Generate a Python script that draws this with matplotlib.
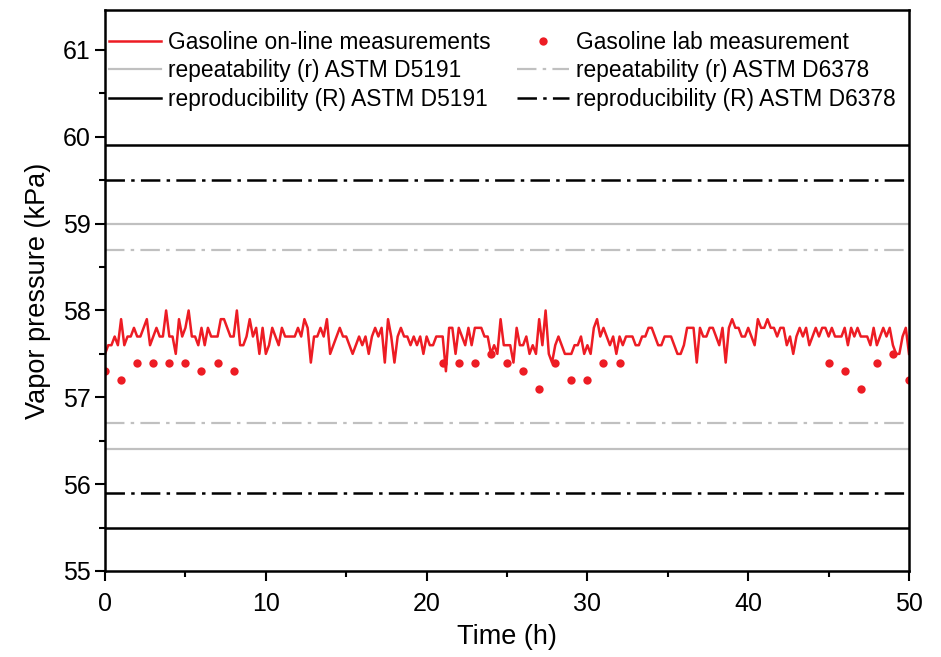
import numpy as np
import matplotlib
matplotlib.use("Agg")
import matplotlib.pyplot as plt
from matplotlib.ticker import MultipleLocator

plt.rcParams['font.family'] = ['Liberation Sans', 'DejaVu Sans']
plt.rcParams['lines.scale_dashes'] = False

# on-line analyser, one reading every 0.2 h
DT = 0.2
online_kpa = [
    57.5, 57.6, 57.6, 57.7, 57.6, 57.9, 57.6, 57.7, 57.7, 57.8,
    57.7, 57.7, 57.8, 57.9, 57.6, 57.7, 57.8, 57.7, 57.7, 58.0,
    57.7, 57.7, 57.5, 57.9, 57.7, 57.8, 58.0, 57.7, 57.7, 57.6,
    57.8, 57.6, 57.8, 57.7, 57.7, 57.7, 57.9, 57.9, 57.8, 57.7,
    57.7, 58.0, 57.6, 57.6, 57.7, 57.9, 57.7, 57.8, 57.5, 57.8,
    57.5, 57.6, 57.8, 57.7, 57.6, 57.8, 57.7, 57.7, 57.7, 57.7,
    57.8, 57.7, 57.9, 57.8, 57.4, 57.7, 57.7, 57.8, 57.7, 57.9,
    57.5, 57.6, 57.7, 57.8, 57.7, 57.7, 57.6, 57.5, 57.6, 57.7,
    57.6, 57.7, 57.5, 57.7, 57.8, 57.7, 57.8, 57.4, 57.9, 57.7,
    57.4, 57.7, 57.8, 57.7, 57.7, 57.6, 57.7, 57.6, 57.7, 57.5,
    57.7, 57.6, 57.6, 57.7, 57.7, 57.7, 57.3, 57.8, 57.8, 57.5,
    57.8, 57.7, 57.6, 57.8, 57.6, 57.8, 57.8, 57.8, 57.7, 57.7,
    57.5, 57.6, 57.5, 57.9, 57.6, 57.6, 57.6, 57.4, 57.8, 57.6,
    57.6, 57.7, 57.5, 57.6, 57.5, 57.9, 57.6, 58.0, 57.5, 57.4,
    57.6, 57.7, 57.6, 57.5, 57.5, 57.5, 57.6, 57.6, 57.7, 57.5,
    57.6, 57.5, 57.8, 57.9, 57.7, 57.8, 57.7, 57.6, 57.7, 57.5,
    57.7, 57.6, 57.7, 57.7, 57.7, 57.6, 57.6, 57.7, 57.7, 57.8,
    57.8, 57.7, 57.6, 57.6, 57.7, 57.7, 57.7, 57.6, 57.5, 57.5,
    57.6, 57.8, 57.8, 57.8, 57.4, 57.8, 57.7, 57.7, 57.8, 57.8,
    57.7, 57.6, 57.8, 57.4, 57.8, 57.9, 57.8, 57.8, 57.7, 57.7,
    57.8, 57.7, 57.6, 57.9, 57.8, 57.8, 57.9, 57.8, 57.8, 57.7,
    57.8, 57.8, 57.6, 57.7, 57.5, 57.7, 57.8, 57.7, 57.8, 57.6,
    57.7, 57.8, 57.7, 57.8, 57.8, 57.7, 57.8, 57.7, 57.7, 57.7,
    57.8, 57.6, 57.8, 57.7, 57.8, 57.7, 57.7, 57.7, 57.6, 57.8,
    57.6, 57.7, 57.8, 57.7, 57.8, 57.6, 57.5, 57.5, 57.7, 57.8,
    57.5,
]
online_t = np.arange(len(online_kpa)) * DT

lab_t = [0, 1, 2, 3, 4, 5, 6, 7, 8,
         21, 22, 23, 24, 25, 26, 27, 28, 29, 30, 31, 32,
         45, 46, 47, 48, 49, 50]
lab_kpa = [57.3, 57.2, 57.4, 57.4, 57.4, 57.4, 57.3, 57.4, 57.3,
           57.4, 57.4, 57.4, 57.5, 57.4, 57.3, 57.1, 57.4, 57.2, 57.2, 57.4, 57.4,
           57.4, 57.3, 57.1, 57.4, 57.5, 57.2]

# limits (lower, upper) in kPa
r_d5191 = [56.4, 59.0]
r_d6378 = [56.7, 58.7]
R_d5191 = [55.5, 59.9]
R_d6378 = [55.9, 59.5]

RED = '#ed1c24'
GRAY = '#c0c0c0'
DASHDOT = (0, (14, 4.5, 2.5, 4.5))

fig = plt.figure(figsize=(9.41, 6.57), dpi=100)
ax = fig.add_axes([0.1116, 0.1309, 0.8544, 0.8539])

h_on, = ax.plot(online_t, online_kpa, color=RED, lw=1.8,
                label='Gasoline on-line measurements')
h_lab, = ax.plot(lab_t, lab_kpa, 'o', color=RED, ms=6, mec='none',
                 label='Gasoline lab measurement')


def limit_pair(vals, label, **kw):
    # draw both lower and upper limit, return one handle for the legend
    hs = [ax.axhline(v, **kw) for v in vals]
    hs[0].set_label(label)
    return hs[0]


h_r1 = limit_pair(r_d5191, 'repeatability (r) ASTM D5191', color=GRAY, lw=1.6)
h_r2 = limit_pair(r_d6378, 'repeatability (r) ASTM D6378', color=GRAY, lw=1.6,
                  linestyle=DASHDOT)
h_R1 = limit_pair(R_d5191, 'reproducibility (R) ASTM D5191', color='black', lw=1.8)
h_R2 = limit_pair(R_d6378, 'reproducibility (R) ASTM D6378', color='black', lw=1.8,
                  linestyle=DASHDOT)

ax.set_xlim(0, 50)
ax.set_ylim(55, 61.46)
ax.xaxis.set_major_locator(MultipleLocator(10))
ax.xaxis.set_minor_locator(MultipleLocator(5))
ax.yaxis.set_major_locator(MultipleLocator(1))
ax.yaxis.set_minor_locator(MultipleLocator(0.5))
ax.tick_params(which='both', direction='out', width=1.5, labelsize=18,
               top=False, right=False)
ax.tick_params(which='major', length=7)
ax.tick_params(which='minor', length=4.5)
ax.tick_params(axis='x', pad=8)
for s in ax.spines.values():
    s.set_linewidth(1.8)

ax.set_xlabel('Time (h)', fontsize=19.5, labelpad=6)
ax.set_ylabel('Vapor pressure (kPa)', fontsize=19.5, labelpad=8)

handles = [h_on, h_r1, h_R1, h_lab, h_r2, h_R2]
leg = ax.legend(handles, [h.get_label() for h in handles],
                ncol=2, loc='upper left', bbox_to_anchor=(0.005, 0.963),
                frameon=False, fontsize=16.4, handlelength=2.3,
                handletextpad=0.3, columnspacing=1.15, labelspacing=0.25,
                borderaxespad=0, borderpad=0, numpoints=1)

fig.savefig('out.png', dpi=100)
